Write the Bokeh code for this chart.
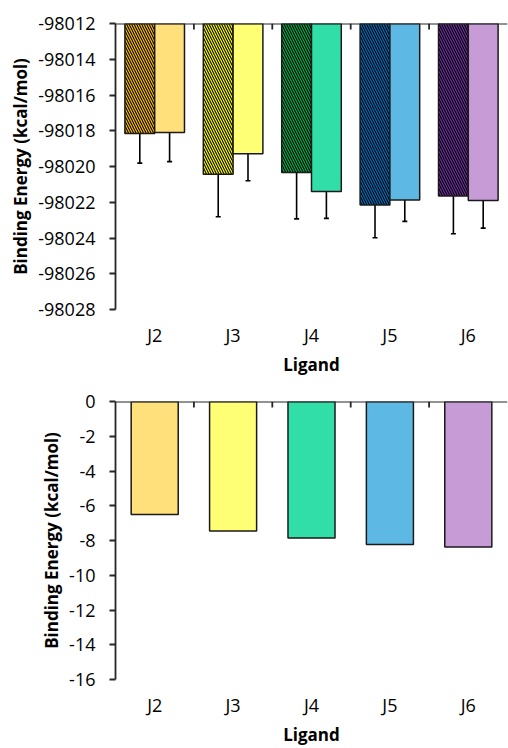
import math
from bokeh.plotting import figure
from bokeh.models import (ColumnDataSource, Range1d, LinearAxis, FixedTicker,
                          NumeralTickFormatter, Whisker, TeeHead, Span)
from bokeh.layouts import column
from bokeh.transform import dodge
from bokeh.embed import file_html
from bokeh.resources import INLINE

# ---------------- data ----------------
ligands = ["J2", "J3", "J4", "J5", "J6"]
hatched_means = [-98018.16, -98020.44, -98020.34, -98022.15, -98021.65]
hatched_errors = [1.65, 2.37, 2.59, 1.84, 2.11]
plain_means = [-98018.10, -98019.28, -98021.40, -98021.87, -98021.90]
plain_errors = [1.63, 1.52, 1.50, 1.20, 1.55]
bottom_values = [-6.50, -7.46, -7.85, -8.23, -8.38]
top_y_ticks = [-98028, -98026, -98024, -98022, -98020, -98018, -98016, -98014, -98012]
bottom_y_ticks = [-16, -14, -12, -10, -8, -6, -4, -2, 0]

hatched_colors = ["#FFC000", "#FFFF00", "#00B050", "#0070C0", "#7030A0"]
plain_colors = ["#FFE07A", "#FFFF75", "#31DEA8", "#5DB9E3", "#C79BD6"]

FONT = "Open Sans"
AXIS_COLOR = "#262626"

xpos = [i + 0.5 for i in range(len(ligands))]
bounds = list(range(1, len(ligands)))


def style_common(p, y_ticks, y_top):
    p.outline_line_color = None
    p.xgrid.visible = False
    p.ygrid.visible = False
    # category axis line at the top, with boundary ticks pointing down
    p.add_layout(Span(location=y_top, dimension="width",
                      line_color=AXIS_COLOR, line_width=1.8))
    p.ray(x=bounds, y=[y_top] * len(bounds), length=6, length_units="screen",
          angle=-math.pi / 2, line_color=AXIS_COLOR, line_width=1.8)
    # category labels below the plot
    bot_ax = LinearAxis(ticker=FixedTicker(ticks=xpos),
                        major_label_overrides={x: l for x, l in zip(xpos, ligands)},
                        axis_line_color=None, major_tick_line_color=None,
                        minor_tick_line_color=None, major_tick_in=0, major_tick_out=0,
                        major_label_standoff=13,
                        major_label_text_font=FONT, major_label_text_font_size="18px",
                        major_label_text_color="#000000",
                        axis_label="Ligand", axis_label_standoff=3,
                        axis_label_text_font=FONT, axis_label_text_font_size="17px",
                        axis_label_text_font_style="bold", axis_label_text_color="#000000")
    p.add_layout(bot_ax, "below")
    ya = p.yaxis[0]
    ya.ticker = FixedTicker(ticks=y_ticks)
    ya.formatter = NumeralTickFormatter(format="0")
    ya.axis_line_color = AXIS_COLOR
    ya.axis_line_width = 1.8
    ya.major_tick_line_color = AXIS_COLOR
    ya.major_tick_line_width = 1.8
    ya.major_tick_in = 0
    ya.major_tick_out = 6
    ya.minor_tick_line_color = None
    ya.major_label_standoff = 14
    ya.major_label_text_font = FONT
    ya.major_label_text_font_size = "18px"
    ya.major_label_text_color = "#000000"
    ya.axis_label = "Binding Energy (kcal/mol)"
    ya.axis_label_text_font = FONT
    ya.axis_label_text_font_size = "17px"
    ya.axis_label_text_font_style = "bold"
    ya.axis_label_text_color = "#000000"
    ya.axis_label_standoff = 3


# ---------------- top chart ----------------
src = ColumnDataSource(dict(
    x=xpos, ligand=ligands,
    h_mean=hatched_means, h_top=[top_y_ticks[-1]] * len(ligands),
    h_up=[m + e for m, e in zip(hatched_means, hatched_errors)],
    h_lo=[m - e for m, e in zip(hatched_means, hatched_errors)],
    p_mean=plain_means,
    p_up=[m + e for m, e in zip(plain_means, plain_errors)],
    p_lo=[m - e for m, e in zip(plain_means, plain_errors)],
    h_color=hatched_colors, p_color=plain_colors,
))

p1 = figure(width=508, height=378, output_backend="svg", toolbar_location=None,
            x_range=Range1d(0, len(ligands)),
            y_range=Range1d(top_y_ticks[0], top_y_ticks[-1]),
            x_axis_type=None, min_border_left=113, min_border_right=0,
            min_border_top=23, min_border_bottom=10)

p1.vbar(x=dodge("x", -0.19, range=p1.x_range), width=0.38, top="h_top", bottom="h_mean",
        source=src, fill_color="h_color", line_color="#1a1a1a", line_width=1.5,
        hatch_pattern="left_diagonal_line", hatch_color="#000000",
        hatch_scale=5, hatch_weight=1.1)
p1.vbar(x=dodge("x", 0.19, range=p1.x_range), width=0.38, top="h_top", bottom="p_mean",
        source=src, fill_color="p_color", line_color="#1a1a1a", line_width=1.5)

for off, up, lo in [(-0.19, "h_up", "h_lo"), (0.19, "p_up", "p_lo")]:
    w = Whisker(base=dodge("x", off, range=p1.x_range), upper=up, lower=lo, source=src,
                line_color="#000000", line_width=1.6,
                upper_head=TeeHead(size=5, line_color="#000000", line_width=1.6),
                lower_head=TeeHead(size=5, line_color="#000000", line_width=1.6))
    p1.add_layout(w)
style_common(p1, top_y_ticks, top_y_ticks[-1])

# ---------------- bottom chart ----------------
src2 = ColumnDataSource(dict(x=xpos, ligand=ligands, v=bottom_values,
                             zero=[0] * len(ligands), color=plain_colors))
p2 = figure(width=508, height=370, output_backend="svg", toolbar_location=None,
            x_range=Range1d(0, len(ligands)),
            y_range=Range1d(bottom_y_ticks[0], bottom_y_ticks[-1]),
            x_axis_type=None, min_border_left=115, min_border_right=1,
            min_border_top=23, min_border_bottom=10)
p2.vbar(x="x", width=0.6, top="zero", bottom="v", source=src2,
        fill_color="color", line_color="#1a1a1a", line_width=1.5)
style_common(p2, bottom_y_ticks, 0)

layout = column(p1, p2, spacing=0)
open("out.html", "w").write(file_html(layout, INLINE))
